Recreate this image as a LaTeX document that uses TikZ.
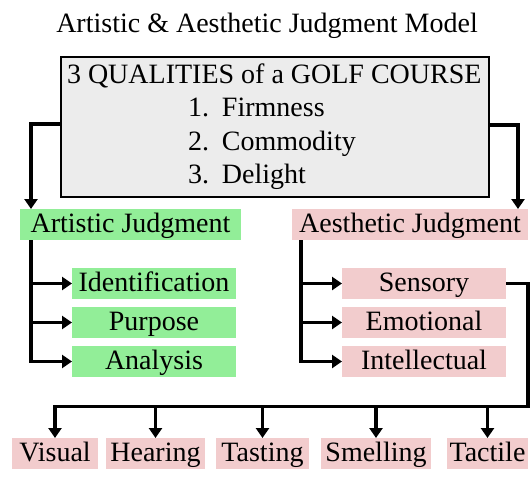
\documentclass[tikz,border=0pt]{standalone}
\usepackage{fontspec}
\setmainfont{Liberation Serif}
\usetikzlibrary{arrows.meta,calc}
\definecolor{artgreen}{RGB}{146,238,152}
\definecolor{aespink}{RGB}{242,204,205}
\definecolor{boxgray}{RGB}{236,236,236}
\begin{document}
\begin{tikzpicture}[x=1pt,y=-1pt,
  every node/.style={font=\fontsize{28}{33}\selectfont},
  label/.style={inner sep=0pt,outer sep=0pt,text height=23pt,text depth=8pt,
    minimum height=31pt,anchor=north west,align=center},
  artbox/.style={label,fill=artgreen},
  aesbox/.style={label,fill=aespink},
  plain/.style={inner sep=0pt,outer sep=0pt,anchor=base west},
  conn/.style={line width=3.5pt,line join=miter},
  arr/.style={conn,-{Triangle[length=10pt,width=13pt]}}]
\useasboundingbox (0,0) rectangle (530,484);

% title
\node[inner sep=0pt,anchor=base] (title) at (267,33) {Artistic \& Aesthetic Judgment Model};

% qualities box
\node[draw,line width=2pt,fill=boxgray,anchor=north west,inner sep=0pt,
  minimum width=428pt,minimum height=140pt] (q) at (60,56) {};
\node[plain] (qh) at (67,84) {3 QUALITIES of a GOLF COURSE};
\node[plain] (q1) at (188,117) {\makebox[34pt][l]{1.}Firmness};
\node[plain] (q2) at (188,150) {\makebox[34pt][l]{2.}Commodity};
\node[plain] (q3) at (188,183) {\makebox[34pt][l]{3.}Delight};

% judgment heads
\node[artbox,minimum width=221pt] (aj) at (20,209) {Artistic Judgment};
\node[aesbox,minimum width=236pt] (ej) at (292,209) {Aesthetic Judgment};

% artistic steps
\node[artbox,minimum width=164pt] (id) at (72,268) {Identification};
\node[artbox,minimum width=164pt] (pu) at (72,307) {Purpose};
\node[artbox,minimum width=164pt] (an) at (72,346) {Analysis};

% aesthetic kinds
\node[aesbox,minimum width=164pt] (se) at (342,268) {Sensory};
\node[aesbox,minimum width=164pt] (em) at (342,307) {Emotional};
\node[aesbox,minimum width=164pt] (in) at (342,346) {Intellectual};

% senses
\node[aesbox,minimum width=86pt]  (vi) at (12,438)  {Visual};
\node[aesbox,minimum width=99pt]  (he) at (106,438) {Hearing};
\node[aesbox,minimum width=93pt]  (ta) at (216,438) {Tasting};
\node[aesbox,minimum width=110pt] (sm) at (321,438) {Smelling};
\node[aesbox,minimum width=81pt]  (tc) at (447,438) {Tactile};

% connectors from the qualities box
\coordinate (ajx) at ($(aj.south west)+(11,0)$);
\coordinate (ejx) at ($(ej.south west)+(9,0)$);
\draw[arr] ($(q.north west)+(0,68)$) -| ($(aj.north west)+(11,0)$);
\draw[arr] ($(q.north east)+(0,69)$) -| ($(ej.north east)+(-10,0)$);

% artistic branches
\draw[arr] (ajx) |- (an);
\draw[arr] (ajx |- id) -- (id);
\draw[arr] (ajx |- pu) -- (pu);

% aesthetic branches
\draw[arr] (ejx) |- (in);
\draw[arr] (ejx |- se) -- (se);
\draw[arr] (ejx |- em) -- (em);

% sensory bus to the senses
\coordinate (bus) at ($(se.east)+(22,123)$);
\draw[arr] (se.east) -| (bus) -- (vi.north |- bus) -- (vi.north);
\draw[arr] (he.north |- bus) -- (he.north);
\draw[arr] (ta.north |- bus) -- (ta.north);
\draw[arr] (sm.north |- bus) -- (sm.north);
\draw[arr] (tc.north |- bus) -- (tc.north);
\end{tikzpicture}
\end{document}
